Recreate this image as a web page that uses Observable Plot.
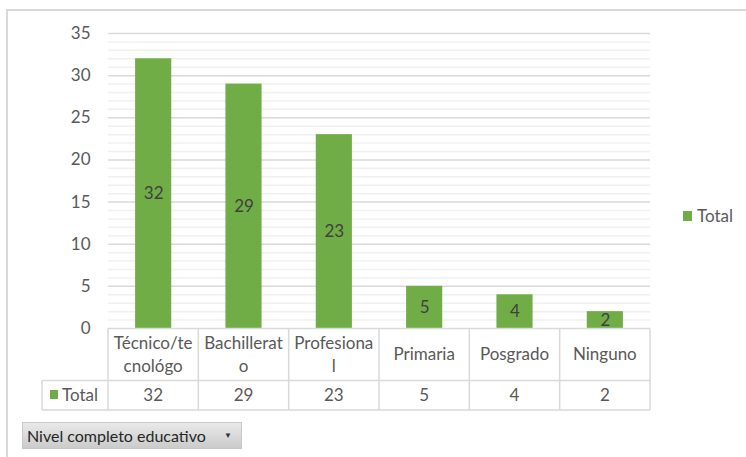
<!DOCTYPE html>
<html>
<head>
<meta charset="utf-8">
<script src="https://cdn.jsdelivr.net/npm/d3@7"></script>
<script src="https://cdn.jsdelivr.net/npm/@observablehq/plot@0.6"></script>
<style>
  html, body { margin: 0; padding: 0; background: #fff; }
  #wrap { position: relative; width: 746px; height: 457px; overflow: hidden; font-family: Lato, "Open Sans", sans-serif; }
  #wrap svg { position: absolute; left: 0; top: 0; }
  #dropdown {
    position: absolute; left: 22px; top: 422px; width: 220px; height: 27px;
    background: linear-gradient(#e9e9e9, #cbcbcb);
    border: 1px solid #c9c9c9; box-sizing: border-box;
    font-size: 16px; color: #262626; line-height: 25px; padding-left: 4px;
  }
  #dropdown .arrow { position: absolute; left: 201px; top: 0; font-size: 8px; color: #333; }
</style>
</head>
<body>
<div id="wrap"><div id="dropdown">Nivel completo educativo<span class="arrow">▼</span></div></div>
<script>
// ---- data ----
const categories = ["Técnico/tecnológo", "Bachillerato", "Profesional", "Primaria", "Posgrado", "Ninguno"];
const values = [32, 29, 23, 5, 4, 2];
const tableLabels = [["Técnico/te", "cnológo"], ["Bachillerat", "o"], ["Profesiona", "l"], ["Primaria"], ["Posgrado"], ["Ninguno"]];
const yTicks = [0, 5, 10, 15, 20, 25, 30, 35];
const seriesName = "Total";
const green = "#70ad47";
const FS = 17;

const data = categories.map((c, i) => ({ cat: c, value: values[i] }));
const minor = d3.range(1, 36).filter(v => v % 5 !== 0);
const major = yTicks.filter(v => v !== 0);

const plot = Plot.plot({
  width: 746,
  height: 457,
  marginLeft: 108,
  marginRight: 96,
  marginTop: 33,
  marginBottom: 129,
  style: { fontFamily: "Lato, 'Open Sans', sans-serif", fontSize: FS + "px", color: "#595959", background: "transparent", overflow: "visible" },
  x: { domain: categories, paddingInner: 0.6, paddingOuter: 0.3, round: false, axis: null },
  y: { domain: [0, 35], axis: null },
  marks: [
    Plot.ruleY(minor, { stroke: "#f0f0f0", strokeWidth: 1.5 }),
    Plot.ruleY(major, { stroke: "#d9d9d9", strokeWidth: 1.5 }),
    Plot.axisY(yTicks, { tickSize: 0, tickPadding: 18, fill: "#595959", label: null, fontSize: FS }),
    Plot.barY(data, { x: "cat", y: "value", fill: green }),
    Plot.text(data, { x: "cat", y: d => d.value / 2, text: d => String(d.value), fill: "#404040", fontSize: FS })
  ]
});

const wrap = document.getElementById("wrap");
wrap.insertBefore(plot, wrap.firstChild);

// ---- table, legend, frame using Plot's x scale ----
const xs = plot.scale("x");
const ys = plot.scale("y");
const svg = d3.select(plot);
const gap = (xs.step - xs.bandwidth) / 2;
const cellLeft = c => xs.apply(c) - gap;
const cellCenter = c => xs.apply(c) + xs.bandwidth / 2;
const left0 = cellLeft(categories[0]);
const right0 = cellLeft(categories[categories.length - 1]) + xs.step;
const yTop = ys.apply(0) + 0.5;
const yMid = 380.5;
const yBot = 410;
const lineColor = "#d9d9d9";

// chart frame
svg.insert("path", ":first-child")
  .attr("d", "M7,457V10H746")
  .attr("fill", "none").attr("stroke", "#d9d9d9").attr("stroke-width", 2);

const g = svg.append("g").attr("stroke", lineColor).attr("stroke-width", 1.5);
g.append("line").attr("x1", left0).attr("x2", right0).attr("y1", yTop).attr("y2", yTop);
g.append("line").attr("x1", 42).attr("x2", right0).attr("y1", yMid).attr("y2", yMid);
g.append("line").attr("x1", 42).attr("x2", right0).attr("y1", yBot).attr("y2", yBot);
g.append("line").attr("x1", 42).attr("x2", 42).attr("y1", yMid).attr("y2", yBot);
categories.forEach(c => {
  const xl = cellLeft(c);
  g.append("line").attr("x1", xl).attr("x2", xl).attr("y1", yTop).attr("y2", yBot);
});
g.append("line").attr("x1", right0).attr("x2", right0).attr("y1", yTop).attr("y2", yBot);

const t = svg.append("g").attr("fill", "#595959").attr("font-size", FS).attr("text-anchor", "middle");
categories.forEach((c, i) => {
  const lines = tableLabels[i];
  const ys0 = lines.length === 1 ? [354] : [343, 366];
  lines.forEach((ln, j) => {
    t.append("text").attr("x", cellCenter(c)).attr("y", ys0[j]).attr("dy", "0.35em").text(ln);
  });
  t.append("text").attr("x", cellCenter(c)).attr("y", 395).attr("dy", "0.35em").text(String(values[i]));
});

// row header
svg.append("rect").attr("x", 50).attr("y", 390).attr("width", 8).attr("height", 9).attr("fill", green);
svg.append("text").attr("x", 62).attr("y", 395).attr("dy", "0.35em").attr("text-anchor", "start")
  .attr("fill", "#595959").attr("font-size", FS).text(seriesName);

// legend
svg.append("rect").attr("x", 683).attr("y", 211).attr("width", 9).attr("height", 10).attr("fill", green);
svg.append("text").attr("x", 697).attr("y", 216).attr("dy", "0.35em").attr("text-anchor", "start")
  .attr("fill", "#595959").attr("font-size", FS).text(seriesName);
</script>
</body>
</html>
